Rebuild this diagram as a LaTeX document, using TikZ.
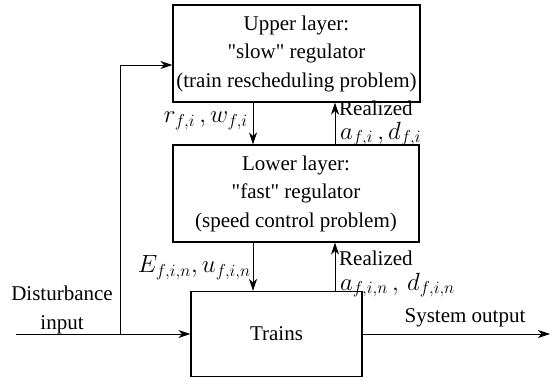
\documentclass[tikz,border=0pt]{standalone}
\usepackage{fontspec}
\setmainfont{Liberation Serif}
\newfontfamily\timesrm{Liberation Serif}
\usetikzlibrary{arrows.meta,calc}
\begin{document}
\begin{tikzpicture}[x=1pt,y=-1pt,
  every node/.style={font=\timesrm\fontsize{21}{28.5}\selectfont},
  mathlabel/.style={inner sep=0pt,font=\timesrm\fontsize{24}{28}\selectfont},
  blockbox/.style={draw,line width=1.1pt,rectangle,align=center,inner sep=0pt},
  arr/.style={line width=0.9pt,-{Stealth[length=12pt,width=8pt,inset=3.5pt]}}]
\useasboundingbox (0,0) rectangle (554,382);
\node[blockbox,minimum width=247pt,minimum height=97pt] (up) at (296.5,53.5)
  {Upper layer:\\\textquotedbl slow\textquotedbl{} regulator\\(train rescheduling problem)};
\node[blockbox,minimum width=246pt,minimum height=97pt] (low) at (296,193.5)
  {Lower layer:\\\textquotedbl fast\textquotedbl{} regulator\\(speed control problem)};
\node[blockbox,minimum width=171pt,minimum height=85pt] (tr) at (276.5,334) {Trains};
% coordinates
\coordinate (xa) at (253,0);
\coordinate (xb) at (335,0);
\coordinate (din) at (16,334);
\coordinate (br) at (120,334);
\coordinate (upin) at (0,65);
\coordinate (dout) at (550,334);
% arrows between layers
\draw[arr] (up.south -| xa) -- (low.north -| xa);
\draw[arr] (low.north -| xb) -- (up.south -| xb);
\draw[arr] (low.south -| xa) -- (tr.north -| xa);
\draw[arr] (tr.north -| xb) -- (low.south -| xb);
% disturbance and output
\draw[arr] (din) -- (tr.west);
\draw[arr] (br) |- (up.west |- upin);
\draw[arr] (tr.east) -- (dout);
% labels
\node[mathlabel,anchor=east] (l1) at (248,121) {$r_{f,i}\,,w_{f,i}$};
\node[anchor=west,inner sep=0pt] (l2) at (339,108) {Realized};
\node[mathlabel,anchor=west] (l3) at (340,134) {$a_{f,i}\,,d_{f,i}$};
\node[mathlabel,anchor=east] (l4) at (251,268) {$E_{f,i,n},u_{f,i,n}$};
\node[anchor=west,inner sep=0pt] (l5) at (339,258) {Realized};
\node[mathlabel,anchor=west] (l6) at (340,285) {$a_{f,i,n}\,,\,d_{f,i,n}$};
\node[align=center,inner sep=0pt] (l7) at (62,310) {Disturbance\\input};
\node[inner sep=0pt] (l8) at (465,318) {System output};
\end{tikzpicture}
\end{document}
